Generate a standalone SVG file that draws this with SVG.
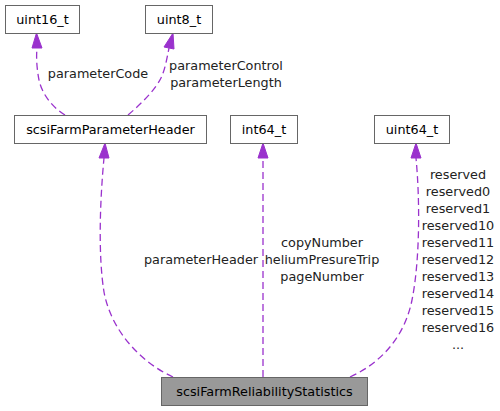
<svg xmlns="http://www.w3.org/2000/svg" width="500" height="411" viewBox="0 0 500 411">
<style>
.box{fill:#ffffff;stroke:#666666;stroke-width:1}
.main{fill:#999999;stroke:#666666;stroke-width:1}
text{font-family:"DejaVu Sans","Liberation Sans",sans-serif;font-size:12.8px;fill:#000000}
.lbl{fill:#222222}
.e{fill:none;stroke:#9a32cd;stroke-width:1.3;stroke-dasharray:7,4}
.ah{fill:#9a32cd;stroke:#9a32cd;stroke-width:1}
</style>
<rect width="500" height="411" fill="#ffffff"/>
<g id="connectors">
  <path class="e" d="M65,115 C52,107 42,94 39,80 C37,70 36,58 37,48"/>
  <polygon class="ah" points="32,48 42,48 36.5,33"/>
  <path class="e" d="M128,115 C142,103 155,90 161,78 C165,70 167,58 169,48"/>
  <polygon class="ah" points="164,47 174,49 173,33"/>
  <path class="e" d="M173,377 C140,362 111,330 104,292 C98,255 100,200 104,158"/>
  <polygon class="ah" points="99,158 109,158 105,143"/>
  <path class="e" d="M263,377 L263,158"/>
  <polygon class="ah" points="258,158 268,158 263,143"/>
  <path class="e" d="M350,377 C383,362 405,335 412,300 C420,260 420,200 416,158"/>
  <polygon class="ah" points="411,158 421,158 416,143"/>
  <text class="lbl" x="98" y="78" text-anchor="middle">parameterCode</text>
  <text class="lbl" x="226" y="70" text-anchor="middle">parameterControl</text>
  <text class="lbl" x="226" y="87" text-anchor="middle">parameterLength</text>
  <text class="lbl" x="201" y="264" text-anchor="middle">parameterHeader</text>
  <text class="lbl" x="322" y="247" text-anchor="middle">copyNumber</text>
  <text class="lbl" x="322" y="264" text-anchor="middle">heliumPresureTrip</text>
  <text class="lbl" x="322" y="281" text-anchor="middle">pageNumber</text>
  <text class="lbl" x="458" y="179" text-anchor="middle">reserved</text>
  <text class="lbl" x="458" y="196" text-anchor="middle">reserved0</text>
  <text class="lbl" x="458" y="213" text-anchor="middle">reserved1</text>
  <text class="lbl" x="458" y="230" text-anchor="middle">reserved10</text>
  <text class="lbl" x="458" y="247" text-anchor="middle">reserved11</text>
  <text class="lbl" x="458" y="264" text-anchor="middle">reserved12</text>
  <text class="lbl" x="458" y="281" text-anchor="middle">reserved13</text>
  <text class="lbl" x="458" y="298" text-anchor="middle">reserved14</text>
  <text class="lbl" x="458" y="315" text-anchor="middle">reserved15</text>
  <text class="lbl" x="458" y="332" text-anchor="middle">reserved16</text>
  <text class="lbl" x="458" y="349" text-anchor="middle">...</text>
</g>
<g id="node-uint16_t">
  <rect class="box" x="5.5" y="5.5" width="74" height="28"/>
  <text x="42.5" y="24" text-anchor="middle">uint16_t</text>
</g>
<g id="node-uint8_t">
  <rect class="box" x="145.5" y="5.5" width="67" height="28"/>
  <text x="179" y="24" text-anchor="middle">uint8_t</text>
</g>
<g id="node-scsiFarmParameterHeader">
  <rect class="box" x="14.5" y="115.5" width="192" height="28"/>
  <text x="110.5" y="134" text-anchor="middle">scsiFarmParameterHeader</text>
</g>
<g id="node-int64_t">
  <rect class="box" x="230.5" y="115.5" width="67" height="28"/>
  <text x="264" y="134" text-anchor="middle">int64_t</text>
</g>
<g id="node-uint64_t">
  <rect class="box" x="374.5" y="115.5" width="75" height="28"/>
  <text x="412" y="134" text-anchor="middle">uint64_t</text>
</g>
<g id="node-scsiFarmReliabilityStatistics">
  <rect class="main" x="161.5" y="377.5" width="206" height="28"/>
  <text x="264.5" y="396" text-anchor="middle">scsiFarmReliabilityStatistics</text>
</g>
</svg>
